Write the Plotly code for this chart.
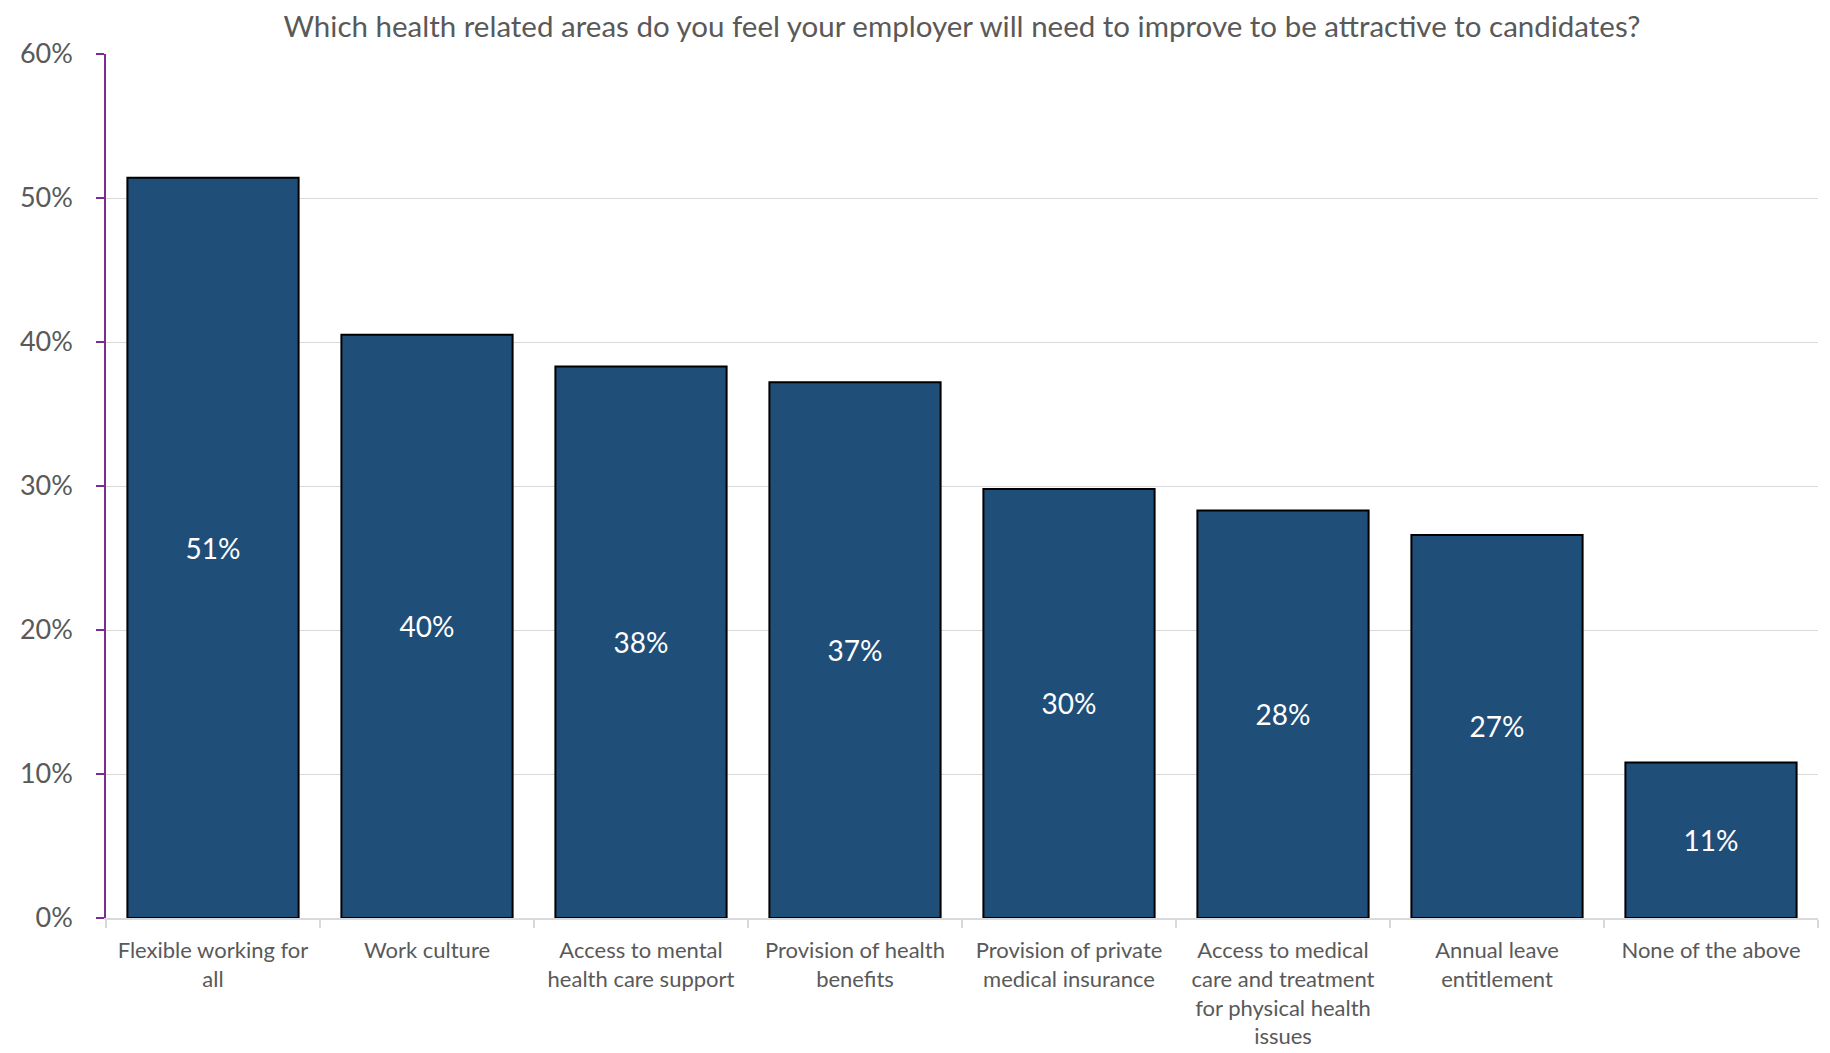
import plotly.graph_objects as go

categories = [
    "Flexible working for<br>all",
    "Work culture",
    "Access to mental<br>health care support",
    "Provision of health<br>benefits",
    "Provision of private<br>medical insurance",
    "Access to medical<br>care and treatment<br>for physical health<br>issues",
    "Annual leave<br>entitlement",
    "None of the above",
]
values = [51.4, 40.5, 38.3, 37.2, 29.8, 28.3, 26.6, 10.8]
labels = ["51%", "40%", "38%", "37%", "30%", "28%", "27%", "11%"]
y_ticks = [0, 10, 20, 30, 40, 50, 60]
y_tick_text = ["0%", "10%", "20%", "30%", "40%", "50%", "60%"]

FONT = "Lato"
GREY = "#595959"

fig = go.Figure(
    go.Bar(
        x=categories,
        y=values,
        text=labels,
        textposition="inside",
        insidetextanchor="middle",
        textangle=0,
        textfont=dict(family=FONT, size=28, color="white"),
        marker=dict(color="#1F4E79", line=dict(color="#000000", width=2)),
        width=0.8,
        hoverinfo="skip",
    )
)

fig.update_layout(
    width=1830,
    height=1053,
    paper_bgcolor="white",
    plot_bgcolor="white",
    margin=dict(l=89, r=20, t=46, b=134),
    showlegend=False,
    title=dict(
        text="Which health related areas do you feel your employer will need to improve to be attractive to candidates?",
        font=dict(family=FONT, size=29.5, color=GREY),
        xref="paper",
        x=0.5,
        xanchor="center",
        yref="container",
        y=1 - 8 / 1053,
        yanchor="top",
        pad=dict(t=0),
    ),
)

fig.update_yaxes(
    range=[0, 60],
    tickvals=y_ticks,
    ticktext=y_tick_text,
    tickfont=dict(family=FONT, size=27, color=GREY),
    showgrid=True,
    gridcolor="#D9D9D9",
    gridwidth=1,
    showline=True,
    linecolor="#7F2A92",
    linewidth=1.5,
    ticks="outside",
    ticklen=8,
    tickcolor="#7F2A92",
    tickwidth=1.5,
    ticklabelstandoff=18,
    zeroline=False,
)

fig.update_xaxes(
    tickfont=dict(family=FONT, size=22, color=GREY),
    showline=True,
    linecolor="#D9D9D9",
    linewidth=2,
    ticks="outside",
    tickson="boundaries",
    ticklen=8,
    tickcolor="#D9D9D9",
    tickwidth=2,
    ticklabelstandoff=12,
    showgrid=False,
)

fig.write_html("out.html")
